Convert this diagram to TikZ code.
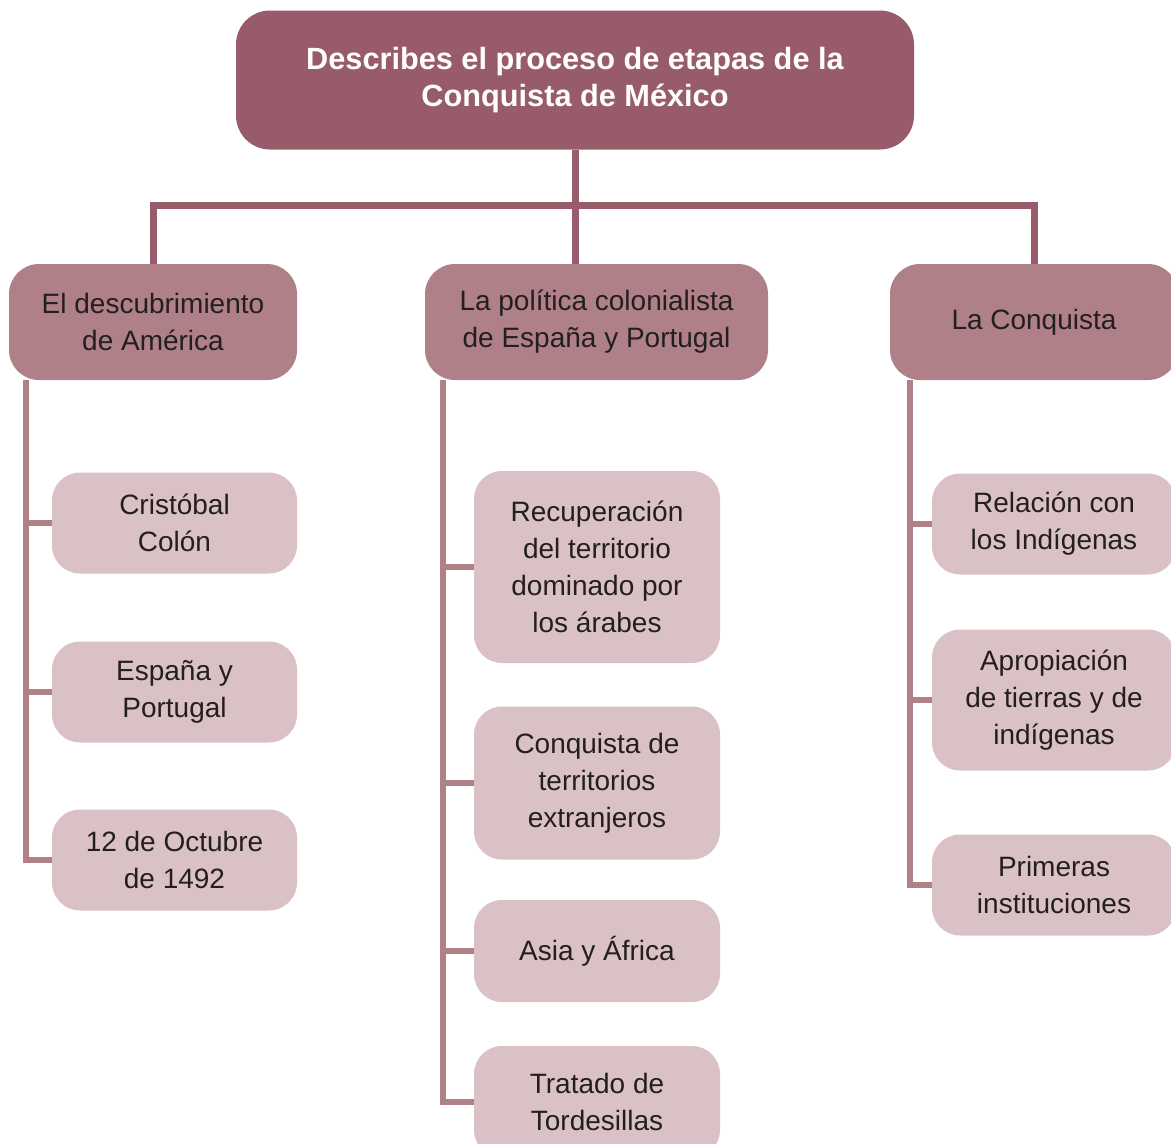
\documentclass[tikz,border=0pt]{standalone}
\usepackage{fontspec}
\setmainfont{Liberation Sans}
\usepackage{tikz}

\definecolor{vino}{HTML}{985B6A}
\definecolor{rosa}{HTML}{AF8088}
\definecolor{rosaclaro}{HTML}{DAC1C5}
\definecolor{texto}{HTML}{231F20}

\begin{document}
\begin{tikzpicture}[x=1pt,y=-1pt,
    titulo/.style={fill=vino,rounded corners=34pt,inner sep=0pt,align=center,
      text=white,font=\fontsize{30.7}{37}\selectfont\bfseries,
      minimum width=678pt,minimum height=139pt},
    etapa/.style={fill=rosa,rounded corners=30pt,inner sep=0pt,align=center,
      text=texto,font=\fontsize{28}{37}\selectfont,minimum height=116pt},
    tema/.style={fill=rosaclaro,rounded corners=28pt,inner sep=0pt,align=center,
      text=texto,font=\fontsize{28}{37}\selectfont},
    tronco/.style={draw=vino,line width=7pt},
    rama/.style={draw=rosa,line width=6pt}]
    \useasboundingbox (0,0) rectangle (1171,1144);
    \clip (0,0) rectangle (1171,1144);
    % Main title
    \node[titulo] (top) at (575,80) {Describes el proceso de etapas de la\\Conquista de México};
    % Stages
    \node[etapa,minimum width=288pt] (desc) at (153,322) {El descubrimiento\\de América};
    \node[etapa,minimum width=343pt] (poli) at (596.5,322) {La política colonialista\\de España y Portugal};
    \node[etapa,minimum width=288pt] (conq) at (1034,322) {La Conquista};
    % Left column
    \node[tema,minimum width=245pt,minimum height=101pt] (colon) at (174.5,523) {Cristóbal\\Colón};
    \node[tema,minimum width=245pt,minimum height=101pt] (espana) at (174.5,692) {España y\\Portugal};
    \node[tema,minimum width=245pt,minimum height=101pt] (fecha) at (174.5,860) {12 de Octubre\\de 1492};
    % Middle column
    \node[tema,minimum width=246pt,minimum height=192pt] (recup) at (597,567) {Recuperación\\del territorio\\dominado por\\los árabes};
    \node[tema,minimum width=246pt,minimum height=153pt] (terri) at (597,783) {Conquista de\\territorios\\extranjeros};
    \node[tema,minimum width=246pt,minimum height=102pt] (asia) at (597,951) {Asia y África};
    \node[tema,minimum width=246pt,minimum height=112pt] (trat) at (597,1102) {Tratado de\\Tordesillas};
    % Right column
    \node[tema,minimum width=244pt,minimum height=101pt] (indi) at (1054,524) {Relación con\\los Indígenas};
    \node[tema,minimum width=244pt,minimum height=141pt] (tierra) at (1054,700) {Apropiación\\de tierras y de\\indígenas};
    \node[tema,minimum width=244pt,minimum height=101pt] (inst) at (1054,885) {Primeras\\instituciones};
    % Top connectors
    \coordinate (bar) at (575,205);
    \draw[tronco] (top.south) -- (top.south |- poli.north);
    \draw[tronco] (desc.north) |- (bar) -| (conq.north);
    % Side lines
    \coordinate (descline) at ([xshift=17pt]desc.south west);
    \coordinate (poliline) at ([xshift=18pt]poli.south west);
    \coordinate (conqline) at ([xshift=20pt]conq.south west);
    \draw[rama] (descline) |- (fecha.west);
    \draw[rama] (poliline) |- (trat.west);
    \draw[rama] (conqline) |- (inst.west);
    \foreach \n in {colon,espana} {
      \draw[rama] (descline |- \n.west) -- (\n.west);
    }
    \foreach \n in {recup,terri,asia} {
      \draw[rama] (poliline |- \n.west) -- (\n.west);
    }
    \foreach \n in {indi,tierra} {
      \draw[rama] (conqline |- \n.west) -- (\n.west);
    }
\end{tikzpicture}
\end{document}
